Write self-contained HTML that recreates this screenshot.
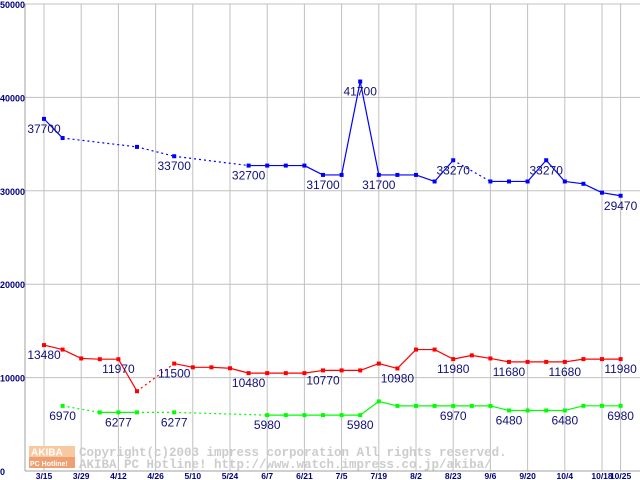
<!DOCTYPE html>
<html><head><meta charset="utf-8"><style>
body{margin:0;background:#fff;}
svg{display:block;}
</style></head><body>
<svg id="chart" width="640" height="480" xmlns="http://www.w3.org/2000/svg">
<g id="grid"></g>
<g id="watermark">
<rect x="29" y="446" width="46" height="11" fill="#f8c8a0"/>
<rect x="29" y="457" width="46" height="11" fill="#f0a070"/>
<text x="31" y="455.5" font-family="Liberation Sans, sans-serif" font-size="10" font-weight="bold" fill="#fff">AKIBA</text>
<text x="30" y="466" font-family="Liberation Sans, sans-serif" font-size="7" font-weight="bold" fill="#fff">PC Hotline!</text>
<text x="79" y="456" font-family="Liberation Mono, monospace" font-size="12.5" font-weight="bold" fill="#cccccc">Copyright(c)2003 impress corporation All rights reserved.</text>
<text x="79" y="468" font-family="Liberation Mono, monospace" font-size="12.5" font-weight="bold" fill="#cccccc">AKIBA PC Hotline!  http://www.watch.impress.co.jp/akiba/</text>
</g>
<g id="series"></g>
<g id="labels"></g>
</svg>
<script>
const xTickLabels = ["3/15","3/29","4/12","4/26","5/10","5/24","6/7","6/21","7/5","7/19","8/2","8/23","9/6","9/20","10/4","10/18","10/25"];
const xTickIndex = [0,2,4,6,8,10,12,14,16,18,20,22,24,26,28,30,31];
const yTicks = [0,10000,20000,30000,40000,50000];
const blueValues = [37700,35650,null,null,null,34700,null,33700,null,null,null,32700,32700,32700,32700,31700,31700,41700,31700,31700,31700,31000,33270,null,31000,31000,31000,33270,31000,30750,29800,29470];
const redValues = [13480,13000,12050,11970,11970,8540,null,11500,11100,11100,11000,10480,10480,10480,10480,10770,10770,10770,11500,10980,13000,13000,11980,12380,12050,11680,11680,11680,11680,11980,11980,11980];
const greenValues = [null,6970,null,6277,6277,6277,null,6277,null,null,null,null,5980,5980,5980,5980,5980,5980,7450,6970,6970,6970,6970,6970,6970,6480,6480,6480,6480,6980,6980,6980];
const blueLabelIdx = [0,7,11,15,17,18,22,27,31];
const redLabelIdx = [0,4,7,11,15,19,22,25,28,31];
const greenLabelIdx = [1,4,7,12,17,22,25,28,31];

const NS="http://www.w3.org/2000/svg";
const X0=44, DX=18.6, Y0=471, YTOP=4, VMAX=50000, XL=25, XR=640;
function xScale(i){return X0+i*DX;}
function yScale(v){return Y0-(v/VMAX)*(Y0-YTOP);}
function mk(tag,attrs,parent){const e=document.createElementNS(NS,tag);for(const k in attrs)e.setAttribute(k,attrs[k]);parent.appendChild(e);return e;}
const grid=document.getElementById('grid');
yTicks.forEach(v=>{
  const y=yScale(v);
  const l=mk('line',{x1:XL,x2:XR,y1:y,y2:y,stroke:'#c0c0c0','stroke-width':1},grid);
  
  
  const t=mk('text',{x:0,y:y+4,'font-family':'Liberation Sans, sans-serif','font-size':9,'font-weight':'bold',fill:'#000080'},grid);
  t.textContent=String(v);
  
  
});
xTickIndex.forEach((idx,k)=>{
  const x=xScale(idx);
  const l=mk('line',{x1:x,x2:x,y1:YTOP,y2:Y0,stroke:'#c0c0c0','stroke-width':1},grid);
  
  
  const t=mk('text',{x:x,y:479,'text-anchor':'middle','font-family':'Liberation Sans, sans-serif','font-size':8.5,'font-weight':'bold',fill:'#000080'},grid);
  t.textContent=xTickLabels[k];
  
  
});
const ax=mk('line',{x1:XL,x2:XL,y1:YTOP,y2:Y0,stroke:'#a0a0a0'},grid);


const bx=mk('line',{x1:XL,x2:XR,y1:Y0,y2:Y0,stroke:'#a0a0a0'},grid);



const series=document.getElementById('series');
const labels=document.getElementById('labels');
function draw(vals,color,name,labelIdx){
  let prev=-1;
  for(let i=0;i<vals.length;i++){
    if(vals[i]==null)continue;
    if(prev>=0){
      const attrs={x1:xScale(prev),y1:yScale(vals[prev]),x2:xScale(i),y2:yScale(vals[i]),stroke:color,'stroke-width':1.2};
      if(i-prev>1)attrs['stroke-dasharray']='2,3';
      const l=mk('line',attrs,series);
      
      
    }
    prev=i;
  }
  for(let i=0;i<vals.length;i++){
    if(vals[i]==null)continue;
    const r=mk('rect',{x:xScale(i)-2,y:yScale(vals[i])-2,width:4,height:4,fill:color},series);
    
    
  }
  labelIdx.forEach(i=>{
    const t=mk('text',{x:xScale(i),y:yScale(vals[i])+14,'text-anchor':'middle','font-family':'Liberation Sans, sans-serif','font-size':12,fill:'#10107a'},labels);
    t.textContent=String(vals[i]);
    
    
  });
}
draw(blueValues,'#0000ff','blue-series',blueLabelIdx);
draw(redValues,'#ff0000','red-series',redLabelIdx);
draw(greenValues,'#00ff00','green-series',greenLabelIdx);
</script>
</body></html>
